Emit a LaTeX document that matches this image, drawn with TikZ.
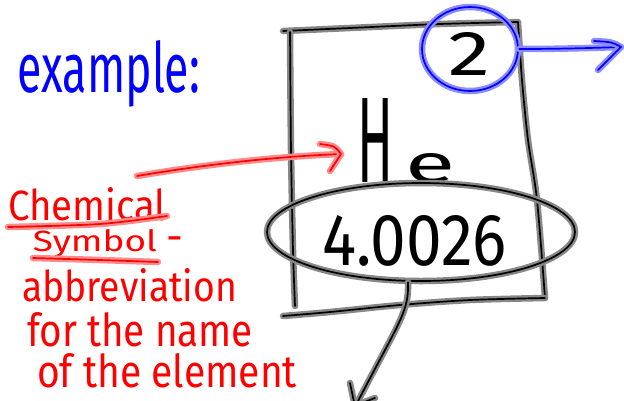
\documentclass[tikz,border=0pt]{standalone}
\usepackage{fontspec}
\setmainfont{Fira Sans}
\usepackage{graphicx}
\usetikzlibrary{shapes.geometric}
\definecolor{inkred}{RGB}{255,0,0}
\definecolor{glowred}{RGB}{255,140,140}
\definecolor{inkblue}{RGB}{0,0,255}
\definecolor{glowblue}{RGB}{140,140,255}
\definecolor{glowgray}{RGB}{135,135,135}
% color, font size, width, height, text
\newcommand{\ink}[5]{{\fontsize{#2}{#2}\selectfont\resizebox{#3}{#4}{\color{#1}#5}}}
\tikzset{
  redpen/.style={draw=glowred, line width=2.4pt, double=inkred, double distance=1.7pt, line cap=round, line join=round},
  bluepen/.style={draw=glowblue, line width=2.4pt, double=inkblue, double distance=1.7pt, line cap=round, line join=round},
  blackpen/.style={draw=glowgray, line width=2.4pt, double=black, double distance=1.7pt, line cap=round, line join=round},
  lbl/.style={inner sep=0pt, outer sep=0pt, anchor=base west},
}
\begin{document}
\begin{tikzpicture}[x=1pt,y=-1pt]
\useasboundingbox (0,0) rectangle (624,400);
% element box
\draw[blackpen] plot[smooth] coordinates {(283,31) (350,28) (440,24) (518,22)}
  -- plot[smooth] coordinates {(518,22) (522,80) (528,140) (537,200) (545,298)};
\draw[blackpen] plot[smooth] coordinates {(290,32) (291,150) (293,250) (295,306)};
\draw[blackpen] plot[smooth] coordinates {(545,298) (470,300) (400,305) (330,312) (283,316)};
% atomic number
\node[lbl] (two) at (448,75) {\ink{black}{60}{42pt}{43pt}{2}};
\node[ellipse, minimum width=96pt, minimum height=84pt, bluepen] (c2) at (470,49) {};
\coordinate (bt) at (621,47);
\draw[bluepen] (c2.east) .. controls (560,49) and (590,48) .. (bt);
\draw[bluepen] (594,41) .. controls (612,42) .. (bt) -- (598,70);
% symbol
\node[lbl] (he) at (357,182) {\ink{black}{100}{36pt}{84pt}{H}\hspace{12pt}\ink{black}{60}{50pt}{29pt}{e}};
% atomic mass
\node[lbl] (mass) at (322,265) {\ink{black}{70}{185pt}{50pt}{4.0026}};
\node[ellipse, minimum width=308pt, minimum height=98pt, blackpen] (ell) at (421,232) {};
\coordinate (bb) at (356,405);
\draw[blackpen] ([xshift=-13pt]ell.south) .. controls (409,312) and (400,320) .. (bb);
\draw[blackpen] (350,383) -- (354,402);
\draw[blackpen] (375,398) -- (362,403);
% example label
\node[lbl] (ex) at (18,92) {\ink{inkblue}{68}{182pt}{52pt}{example:}};
% red explanation
\node[lbl] (chem) at (8,220) {\ink{inkred}{46}{158pt}{33pt}{Chemical}};
\draw[redpen] plot[smooth] coordinates {(8,227) (100,224) (167,216)};
\node[lbl] (sym) at (33,251) {\ink{inkred}{36}{124pt}{22pt}{Symbol}};
\draw[redpen] plot[smooth] coordinates {(33,258) (100,260) (158,262)};
\node[lbl] (dash) at (166,251) {\fontsize{42}{42}\selectfont\color{inkred}-};
\node[lbl] (abbr) at (22,301) {\ink{inkred}{44}{215pt}{33pt}{abbreviation}};
\node[lbl] (forn) at (27,346) {\ink{inkred}{48}{226pt}{34pt}{for the name}};
\node[lbl] (ofel) at (37,387) {\ink{inkred}{48}{260pt}{34pt}{of the element}};
\coordinate (rs) at (137,176);
\coordinate (rt) at (341,154);
\draw[redpen] (rs) .. controls (220,162) and (290,156) .. (rt);
\draw[redpen] (320,144) .. controls (335,146) .. (rt) -- (330,171);
\end{tikzpicture}
\end{document}
